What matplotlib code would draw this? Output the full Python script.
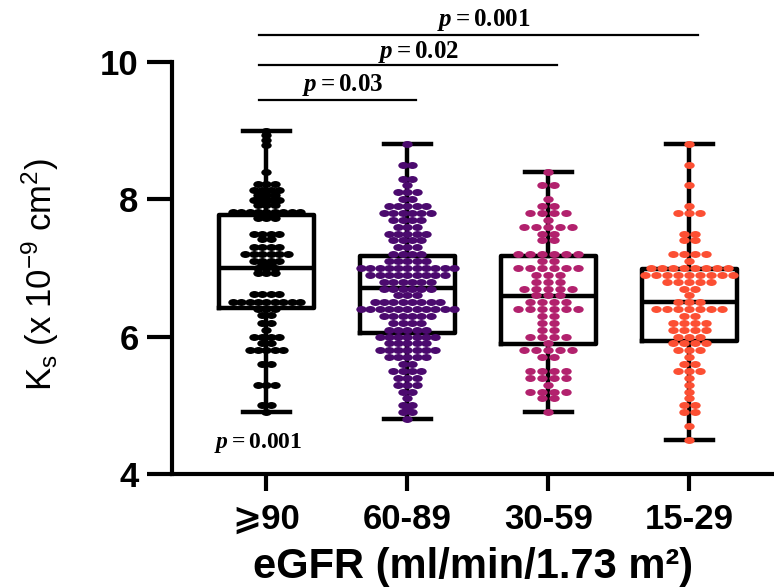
import numpy as np
import matplotlib
matplotlib.use('Agg')
import matplotlib.pyplot as plt
from matplotlib.path import Path

plt.rcParams['font.family'] = ['Liberation Sans', 'DejaVu Sans']
plt.rcParams['mathtext.fontset'] = 'custom'
plt.rcParams['mathtext.rm'] = 'Liberation Serif:bold'
plt.rcParams['mathtext.it'] = 'Liberation Serif:italic:bold'
plt.rcParams['mathtext.sf'] = 'Liberation Sans'

# eGFR groups
groups = ['\u2a7e90', '60-89', '30-59', '15-29']
colors = ['#000000', '#4b0a6e', '#b2216d', '#fc4f33']

# Ks values: value levels and number of dots at each level
g1_levels = [9.0, 8.93, 8.86, 8.79, 8.4, 8.22, 8.13, 8.06, 7.99, 7.92, 7.82, 7.72,
             7.5, 7.42, 7.3, 7.2, 7.1, 7.05, 7.0, 6.93, 6.62, 6.5, 6.4, 6.32, 6.2,
             6.1, 6.0, 5.9, 5.8, 5.6, 5.3, 5.0, 4.9]
g1_counts = [1, 1, 1, 1, 1, 3, 4, 3, 4, 3, 9, 3,
             4, 2, 4, 6, 4, 2, 3, 3, 4, 9, 3, 2, 2,
             1, 4, 2, 5, 2, 3, 2, 1]

g2_levels = [8.8, 8.5, 8.3, 8.2, 8.1, 8.0, 7.9, 7.8, 7.7, 7.6, 7.5, 7.4, 7.3, 7.2,
             7.1, 7.0, 6.9, 6.8, 6.7, 6.6, 6.5, 6.4, 6.3, 6.2, 6.1, 6.0, 5.9, 5.8,
             5.7, 5.6, 5.5, 5.4, 5.3, 5.2, 5.1, 5.0, 4.95, 4.9, 4.8]
g2_counts = [1, 2, 2, 1, 3, 2, 5, 6, 4, 3, 5, 4, 3, 4,
             5, 11, 9, 6, 6, 3, 8, 11, 6, 4, 5, 7, 5, 7,
             5, 2, 4, 3, 3, 2, 1, 2, 1, 2, 1]

g3_levels = [8.4, 8.2, 8.0, 7.9, 7.8, 7.7, 7.6, 7.5, 7.4, 7.2, 7.1, 7.0, 6.9, 6.8,
             6.7, 6.6, 6.5, 6.4, 6.3, 6.2, 6.1, 6.0, 5.9, 5.8, 5.7, 5.5, 5.4, 5.3,
             5.2, 5.1, 4.9]
g3_counts = [1, 2, 1, 2, 4, 1, 5, 2, 2, 6, 2, 6, 3, 3,
             5, 3, 4, 6, 2, 2, 2, 4, 1, 5, 2, 4, 4, 1,
             4, 2, 1]

g4_levels = [8.8, 8.5, 8.2, 7.9, 7.8, 7.5, 7.4, 7.2, 7.1, 7.0, 6.9, 6.8, 6.7, 6.6,
             6.5, 6.4, 6.3, 6.2, 6.1, 6.0, 5.9, 5.8, 5.7, 5.6, 5.5, 5.4, 5.3, 5.2,
             5.1, 5.0, 4.9, 4.7, 4.5]
g4_counts = [1, 1, 1, 1, 3, 2, 2, 4, 1, 8, 9, 5, 2, 1,
             3, 7, 2, 4, 4, 3, 4, 3, 1, 2, 3, 1, 1, 1,
             1, 2, 2, 1, 1]

# box summary (min-max whiskers)
q1 = [6.42, 6.05, 5.89, 5.94]
medians = [7.0, 6.71, 6.59, 6.5]
q3 = [7.77, 7.17, 7.17, 6.98]
mins = [4.9, 4.8, 4.9, 4.5]
maxs = [9.0, 8.8, 8.4, 8.8]

# pairwise comparisons against the first group
comp_a = [0, 0, 0]
comp_b = [1, 2, 3]
comp_p = ['0.03', '0.02', '0.001']
overall_p = '0.001'

all_levels = [g1_levels, g2_levels, g3_levels, g4_levels]
all_counts = [g1_counts, g2_counts, g3_counts, g4_counts]
spacing = [0.06, 0.066, 0.085, 0.078]

fig = plt.figure(figsize=(7.74, 5.87), dpi=100)
ax = fig.add_axes([0.2222, 0.1925, 0.7778, 0.8075])

stats = []
for i in range(4):
    stats.append(dict(q1=q1[i], med=medians[i], q3=q3[i],
                      whislo=mins[i], whishi=maxs[i], fliers=[]))
ax.bxp(stats, positions=range(4), widths=0.67, capwidths=0.33, showfliers=False,
       boxprops=dict(color='black', linewidth=3.2),
       medianprops=dict(color='black', linewidth=3.2),
       whiskerprops=dict(color='black', linewidth=3.2),
       capprops=dict(color='black', linewidth=3.2))

# ellipse marker (the figure looks horizontally stretched)
circ = Path.unit_circle()
ellipse = Path(circ.vertices * np.array([1.5, 1.0]), circ.codes)

for i in range(4):
    xs = []
    ys = []
    for lev, n in zip(all_levels[i], all_counts[i]):
        offs = (np.arange(n) - (n - 1) / 2) * spacing[i]
        xs.extend(i + offs)
        ys.extend([lev] * n)
    ax.plot(xs, ys, linestyle='none', marker=ellipse, ms=7.5,
            color=colors[i], mec='none', zorder=5)

# comparison bars
bar_y = [9.45, 9.96, 10.39]
text_y = [9.66, 10.15, 10.61]
text_x = [0.54, 1.08, 1.54]
for a, b, p, by, ty, tx in zip(comp_a, comp_b, comp_p, bar_y, text_y, text_x):
    ax.plot([a - 0.05, b + 0.06], [by, by], color='black', lw=1.6, clip_on=False)
    ax.text(tx, ty, r'$p = \mathrm{%s}$' % p, ha='center', va='center', fontsize=18)
ax.text(-0.06, 4.45, r'$p = \mathrm{%s}$' % overall_p,
        ha='center', va='center', fontsize=17)

ax.set_xlim(-0.67, 3.6)
ax.set_ylim(4, 10.9)
ax.set_yticks([4, 6, 8, 10])
ax.set_xticks(range(4))
ax.set_xticklabels(groups)
for lab in ax.get_xticklabels() + ax.get_yticklabels():
    lab.set_fontweight('bold')
    lab.set_fontsize(25)

ax.spines['top'].set_visible(False)
ax.spines['right'].set_visible(False)
ax.spines['left'].set_linewidth(3)
ax.spines['bottom'].set_linewidth(3)
ax.spines['left'].set_bounds(4, 10)
ax.tick_params(axis='y', length=18, width=3, pad=6)
ax.tick_params(axis='x', length=12, width=3, pad=9)

ax.set_ylabel(r'$\mathsf{K_s\ (x\ 10^{-9}\ cm^2)}$', fontsize=25)
ax.yaxis.set_label_coords(-0.185, 0.42)
ax.set_xlabel('eGFR (ml/min/1.73 m\u00b2)', fontsize=30, fontweight='bold', labelpad=8)

plt.savefig('out.png', dpi=100)
